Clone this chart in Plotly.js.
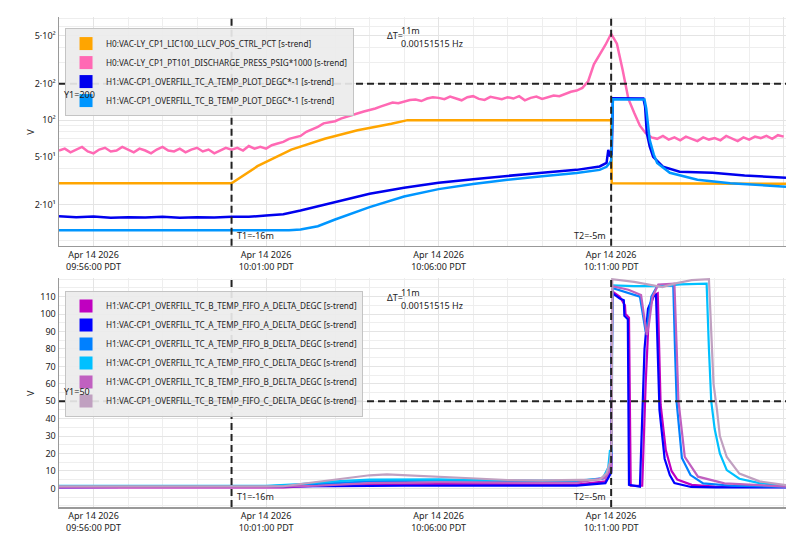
<!DOCTYPE html>
<html>
<head>
<meta charset="utf-8">
<script src="https://cdn.plot.ly/plotly-3.0.1.min.js"></script>
<style>
  html, body { margin: 0; padding: 0; background: #fff; }
  #myDiv { width: 804px; height: 551px; }
</style>
</head>
<body>
<div id="myDiv"></div>
<script>
var day = '2026-04-14 ';

// ---- top panel (log scale) ----
var topNames = [
  'H0:VAC-LY_CP1_LIC100_LLCV_POS_CTRL_PCT [s-trend]',
  'H0:VAC-LY_CP1_PT101_DISCHARGE_PRESS_PSIG*1000 [s-trend]',
  'H1:VAC-CP1_OVERFILL_TC_A_TEMP_PLOT_DEGC*-1 [s-trend]',
  'H1:VAC-CP1_OVERFILL_TC_B_TEMP_PLOT_DEGC*-1 [s-trend]'
];
var topColors = ['#ffa500', '#ff69b4', '#0000ee', '#0096ff'];

var lccTimes = ['09:55:00','10:00:00','10:00:45','10:01:44','10:02:42','10:03:39','10:04:38','10:05:06','10:11:00','10:11:01','10:16:04'];
var lccVals  = [30, 30, 41.5, 57, 70, 82.5, 93.5, 100, 100, 30, 29.7];

// discharge pressure, one reading every 10 s from 09:55:00
var pressStart = '09:55:00';
var pressStep = 10;
var pressVals = [
  56,58,54,57,60,55,
  53,57,59,55,56,60,
  57,54,58,56,53,57,
  60,56,55,58,54,57,
  59,55,57,53,56,59,
  57,59,56,61,58,60,
  58,62,64,66,70,72,
  74,80,84,88,94,96,
  98,103,107,110,114,118,
  121,125,130,134,140,138,
  143,147,148,144,151,155,
  153,149,157,152,146,155,
  158,150,147,156,152,149,
  155,151,158,146,153,157,
  150,156,160,158,166,172,
  176,185,210,290,350,420,
  520,430,260,150,115,90,
  78,72,70,74,69,72,
  68,73,70,67,72,69,
  71,68,74,70,67,72,
  69,73,71,74,70,75,
  73
];

var tcaTimes = ['09:55:00','09:55:30','09:56:00','09:56:30','09:57:00','09:57:30','09:58:00','09:58:30','09:59:00','09:59:30','10:00:00','10:00:30','10:01:00','10:01:30','10:02:00','10:03:00','10:04:00','10:05:00','10:06:00','10:07:00','10:08:00','10:09:00','10:10:00','10:10:40','10:10:52','10:10:55','10:10:58','10:11:01','10:11:03','10:11:30','10:11:56','10:11:59','10:12:02','10:12:07','10:12:13','10:12:30','10:12:59','10:13:56','10:14:52','10:16:04'];
var tcaVals  = [16.0,15.7,15.9,15.5,15.7,15.6,15.8,15.5,15.7,15.6,15.8,15.8,16.2,16.6,17.8,21,24.5,27.5,30.2,32.4,34.6,36.7,38.7,41.3,44.2,56.7,50,52,152,151,151,130,78,60.5,49.6,41.1,37.3,36.6,34.7,33.3];

var tcbTimes = ['09:55:00','10:01:40','10:02:00','10:02:30','10:03:00','10:04:00','10:05:00','10:06:00','10:07:00','10:08:00','10:09:00','10:10:00','10:10:40','10:10:52','10:10:57','10:11:00','10:11:03','10:11:30','10:11:58','10:12:01','10:12:03','10:12:07','10:12:14','10:12:20','10:12:42','10:13:30','10:14:27','10:16:04'];
var tcbVals  = [12.2,12.2,12.4,13.2,15.0,19,23.3,26.8,29.5,32,34.2,36.4,38.7,41,43.9,46,149,149,148,125,100,68.5,52,44.2,36.6,32,30,28.1];

// ---- bottom panel ----
var botNames = [
  'H1:VAC-CP1_OVERFILL_TC_B_TEMP_FIFO_A_DELTA_DEGC [s-trend]',
  'H1:VAC-CP1_OVERFILL_TC_A_TEMP_FIFO_A_DELTA_DEGC [s-trend]',
  'H1:VAC-CP1_OVERFILL_TC_A_TEMP_FIFO_B_DELTA_DEGC [s-trend]',
  'H1:VAC-CP1_OVERFILL_TC_A_TEMP_FIFO_C_DELTA_DEGC [s-trend]',
  'H1:VAC-CP1_OVERFILL_TC_B_TEMP_FIFO_B_DELTA_DEGC [s-trend]',
  'H1:VAC-CP1_OVERFILL_TC_B_TEMP_FIFO_C_DELTA_DEGC [s-trend]'
];
var botColors = ['#c000c0', '#0000ff', '#0080ff', '#00c0ff', '#c060c0', '#c0a0c0'];

var bfaTimes = ['09:55:00','10:01:30','10:02:30','10:04:00','10:06:00','10:08:00','10:10:00','10:10:50','10:11:00','10:11:02','10:11:15','10:11:24','10:11:25','10:11:31','10:11:34','10:11:54','10:11:57','10:12:00','10:12:06','10:12:15','10:12:21','10:12:26','10:12:35','10:12:45','10:12:55','10:13:20','10:14:00','10:16:04'];
var bfaVals  = [0.5,0.6,1.6,2.2,2.4,2.2,2.2,4,10,113,110,105,100,98,1.5,1.5,30,60,103,111,112,48,22,10,5,2,1,0.8];

var afaTimes = ['09:55:00','10:02:00','10:03:00','10:05:00','10:08:00','10:10:00','10:10:50','10:11:00','10:11:02','10:11:15','10:11:22','10:11:23','10:11:29','10:11:31','10:11:50','10:11:53','10:11:56','10:11:58','10:12:04','10:12:13','10:12:18','10:12:21','10:12:24','10:12:33','10:12:42','10:12:50','10:13:19','10:14:00','10:16:04'];
var afaVals  = [0.7,0.8,1.2,1.5,1.5,1.6,3,9,112,109,108,99,97,2,1,30,60,80,103,110,111,70,45,17,7.6,3,0.8,0.6,0.5];

var afbTimes = ['09:55:00','10:01:00','10:02:00','10:03:00','10:04:00','10:06:00','10:08:00','10:10:00','10:10:50','10:11:00','10:11:02','10:11:30','10:11:50','10:11:55','10:12:00','10:12:04','10:12:10','10:12:20','10:12:48','10:12:51','10:12:54','10:13:03','10:13:18','10:13:40','10:14:30','10:16:04'];
var afbVals  = [1.0,1.2,2,3,4,4.5,4.2,4.0,6,14,115,112,110,100,90,96,110,116,116.5,80,49,17.4,7.6,2.9,1.5,0.8];

var afcTimes = ['09:55:00','10:01:00','10:02:00','10:03:00','10:04:00','10:05:00','10:06:00','10:07:00','10:08:00','10:09:00','10:10:00','10:10:45','10:10:55','10:10:58','10:11:01','10:11:02','10:11:40','10:12:30','10:13:00','10:13:40','10:13:46','10:13:50','10:13:54','10:14:00','10:14:09','10:14:21','10:14:43','10:15:18','10:16:04'];
var afcVals  = [1.5,1.5,2.5,4,5,5.3,5.2,4.8,4.5,4.4,4.5,5.5,12,22,20,116.5,116,116,117,117.8,117.5,80,50,34,20,10.5,5.5,3,1.2];

var bfbTimes = ['09:55:00','10:01:00','10:02:30','10:04:00','10:06:00','10:08:00','10:10:00','10:10:50','10:11:00','10:11:02','10:11:30','10:11:52','10:11:57','10:12:02','10:12:06','10:12:12','10:12:22','10:12:50','10:12:54','10:12:57','10:13:08','10:13:31','10:14:17','10:16:04'];
var bfbVals  = [0.8,0.8,1.5,3,3.5,3.3,3.2,6,12,116,114,111,98,88,95,110,117,117.5,80,50,18,6.7,2.9,1];

var bfcTimes = ['09:55:00','10:01:30','10:02:00','10:03:00','10:04:00','10:04:30','10:05:00','10:06:00','10:07:00','10:08:00','10:09:00','10:10:00','10:10:40','10:10:52','10:10:58','10:11:01','10:11:02','10:11:40','10:12:29','10:12:50','10:13:20','10:13:50','10:13:53','10:13:58','10:14:04','10:14:09','10:14:21','10:14:43','10:15:18','10:16:04'];
var bfcVals  = [1.2,1.2,2.5,5,7.5,8,7.5,6.5,5.5,4.8,4.6,4.6,5,8.6,15,25,120,118.5,115.5,117.5,119.5,120,95,60,45,30,18,8.5,4,1.8];

// cursors
var t1 = day + '10:00:00';
var t2 = day + '10:11:00';
var y1Top = 200;
var y1Bot = 50;

function stamp(list) { return list.map(function (t) { return day + t; }); }
function stepTimes(start, step, n) {
  var p = start.split(':').map(Number);
  var s0 = p[0] * 3600 + p[1] * 60 + p[2];
  var out = [];
  for (var i = 0; i < n; i++) {
    var s = s0 + i * step;
    var hh = String(Math.floor(s / 3600)).padStart(2, '0');
    var mm = String(Math.floor(s / 60) % 60).padStart(2, '0');
    var ss = String(s % 60).padStart(2, '0');
    out.push(day + hh + ':' + mm + ':' + ss);
  }
  return out;
}

var font = 'Noto Sans, sans-serif';
var data = [];

var topSeries = [
  [stamp(lccTimes), lccVals],
  [stepTimes(pressStart, pressStep, pressVals.length), pressVals],
  [stamp(tcaTimes), tcaVals],
  [stamp(tcbTimes), tcbVals]
];
topSeries.forEach(function (s, i) {
  data.push({x: s[0], y: s[1], type: 'scatter', mode: 'lines', xaxis: 'x', yaxis: 'y',
    line: {color: topColors[i], width: 2.5}, showlegend: false, hoverinfo: 'skip'});
});
var botSeries = [
  [bfaTimes, bfaVals], [afaTimes, afaVals], [afbTimes, afbVals],
  [afcTimes, afcVals], [bfbTimes, bfbVals], [bfcTimes, bfcVals]
];
botSeries.forEach(function (s, i) {
  data.push({x: stamp(s[0]), y: s[1], type: 'scatter', mode: 'lines', xaxis: 'x2', yaxis: 'y2',
    line: {color: botColors[i], width: 2.2}, showlegend: false, hoverinfo: 'skip'});
});

// legend entries with square swatches
topNames.forEach(function (n, i) {
  data.push({x: [null], y: [null], type: 'scatter', mode: 'markers', xaxis: 'x', yaxis: 'y',
    name: n, legend: 'legend', marker: {symbol: 'square', size: 13, color: topColors[i]}});
});
botNames.forEach(function (n, i) {
  data.push({x: [null], y: [null], type: 'scatter', mode: 'markers', xaxis: 'x2', yaxis: 'y2',
    name: n, legend: 'legend2', marker: {symbol: 'square', size: 13, color: botColors[i]}});
});

var xr = [day + '09:55:00', day + '10:16:04'];
function xax(anchor) {
  return {
    type: 'date', range: xr, anchor: anchor,
    tick0: day + '09:56:00', dtick: 300000,
    tickformat: '%b %d %Y<br>%H:%M:%S PDT',
    tickfont: {family: font, size: 9, color: '#222'},
    showgrid: true, gridcolor: '#e4e4e4', gridwidth: 1,
    minor: {dtick: 60000, showgrid: true, gridcolor: '#eeeeee', gridwidth: 1},
    showline: true, linecolor: '#999', linewidth: 1.5, ticks: '', zeroline: false
  };
}

var dashStyle = '7px,4px';
var cur = {color: '#222', width: 2, dash: dashStyle};
var legendFont = {family: font, size: 8.2, color: '#222'};

var layout = {
  width: 804, height: 551,
  margin: {l: 59, r: 18, t: 17, b: 44},
  paper_bgcolor: '#fff', plot_bgcolor: '#fff',
  font: {family: font, size: 9, color: '#222'},
  xaxis: xax('y'),
  xaxis2: xax('y2'),
  yaxis: {
    type: 'log', domain: [0.533, 1], range: [0.958, 2.855],
    tickvals: [20, 50, 100, 200, 500],
    ticktext: ['2·10¹', '5·10¹', '10²', '2·10²', '5·10²'],
    tickfont: {family: font, size: 9, color: '#222'},
    showgrid: true, gridcolor: '#e4e4e4',
    minor: {tickvals: [10, 30, 40, 60, 70, 80, 90, 300, 400, 600, 700], showgrid: true, gridcolor: '#eeeeee'},
    showline: true, linecolor: '#999', linewidth: 1.5, ticks: '', zeroline: false
  },
  yaxis2: {
    domain: [0, 0.4673], range: [-10.7, 120.7],
    tickvals: [0, 10, 20, 30, 40, 50, 60, 70, 80, 90, 100, 110],
    tickfont: {family: font, size: 9, color: '#222'},
    showgrid: true, gridcolor: '#e4e4e4',
    minor: {dtick: 5, showgrid: true, gridcolor: '#eeeeee'},
    showline: true, linecolor: '#999', linewidth: 1.5, ticks: '', zeroline: false
  },
  legend: {
    x: 0.0083, y: 0.9774, xanchor: 'left', yanchor: 'top',
    bgcolor: 'rgba(236,236,236,0.92)', bordercolor: '#c4c4c4', borderwidth: 1,
    font: legendFont, itemclick: false
  },
  legend2: {
    x: 0.0083, y: 0.4418, xanchor: 'left', yanchor: 'top',
    bgcolor: 'rgba(236,236,236,0.92)', bordercolor: '#c4c4c4', borderwidth: 1,
    font: legendFont, itemclick: false
  },
  shapes: [
    {type: 'line', xref: 'x', yref: 'y domain', x0: t1, x1: t1, y0: 0, y1: 1, line: cur},
    {type: 'line', xref: 'x', yref: 'y domain', x0: t2, x1: t2, y0: 0, y1: 1, line: cur},
    {type: 'line', xref: 'x domain', yref: 'y', x0: 0, x1: 1, y0: y1Top, y1: y1Top, line: cur},
    {type: 'line', xref: 'x2', yref: 'y2 domain', x0: t1, x1: t1, y0: 0, y1: 1, line: cur},
    {type: 'line', xref: 'x2', yref: 'y2 domain', x0: t2, x1: t2, y0: 0, y1: 1, line: cur},
    {type: 'line', xref: 'x2 domain', yref: 'y2', x0: 0, x1: 1, y0: y1Bot, y1: y1Bot, line: cur}
  ],
  annotations: [
    {xref: 'paper', yref: 'y domain', x: -0.051, y: 0.5, text: 'V', textangle: -90, showarrow: false},
    {xref: 'paper', yref: 'y2 domain', x: -0.051, y: 0.5, text: 'V', textangle: -90, showarrow: false},
    {xref: 'x domain', yref: 'y', x: 0, y: Math.log10(y1Top), xanchor: 'left', yanchor: 'top', xshift: 3, yshift: -2, text: 'Y1=' + y1Top, showarrow: false},
    {xref: 'x2 domain', yref: 'y2', x: 0, y: y1Bot, xanchor: 'left', yanchor: 'bottom', xshift: 3, yshift: 1, text: 'Y1=' + y1Bot, showarrow: false},
    {xref: 'x', yref: 'y domain', x: t1, y: 0, xanchor: 'left', yanchor: 'bottom', xshift: 3, yshift: 2, text: 'T1=-16m', showarrow: false},
    {xref: 'x', yref: 'y domain', x: t2, y: 0, xanchor: 'right', yanchor: 'bottom', xshift: -3, yshift: 2, text: 'T2=-5m', showarrow: false},
    {xref: 'x2', yref: 'y2 domain', x: t1, y: 0, xanchor: 'left', yanchor: 'bottom', xshift: 3, yshift: 2, text: 'T1=-16m', showarrow: false},
    {xref: 'x2', yref: 'y2 domain', x: t2, y: 0, xanchor: 'right', yanchor: 'bottom', xshift: -3, yshift: 2, text: 'T2=-5m', showarrow: false},
    {xref: 'x domain', yref: 'y domain', x: 0.4485, y: 0.918, xanchor: 'left', yanchor: 'middle', text: 'ΔT=', showarrow: false},
    {xref: 'x domain', yref: 'y domain', x: 0.468, y: 0.943, xanchor: 'left', yanchor: 'middle', text: '11m', showarrow: false},
    {xref: 'x domain', yref: 'y domain', x: 0.468, y: 0.885, xanchor: 'left', yanchor: 'middle', text: '0.00151515 Hz', showarrow: false},
    {xref: 'x2 domain', yref: 'y2 domain', x: 0.4485, y: 0.917, xanchor: 'left', yanchor: 'middle', text: 'ΔT=', showarrow: false},
    {xref: 'x2 domain', yref: 'y2 domain', x: 0.468, y: 0.936, xanchor: 'left', yanchor: 'middle', text: '11m', showarrow: false},
    {xref: 'x2 domain', yref: 'y2 domain', x: 0.468, y: 0.882, xanchor: 'left', yanchor: 'middle', text: '0.00151515 Hz', showarrow: false}
  ]
};

Plotly.newPlot('myDiv', data, layout, {displayModeBar: false, staticPlot: true});
</script>
</body>
</html>
